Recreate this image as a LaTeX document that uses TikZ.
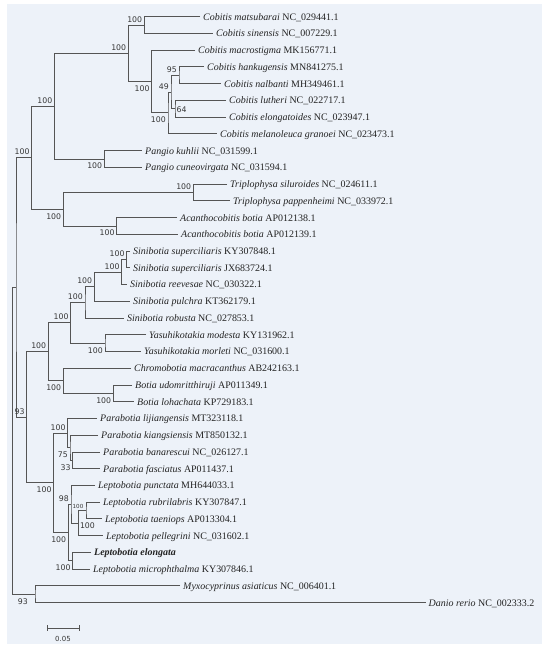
\documentclass[tikz,border=0pt]{standalone}
\usepackage{fontspec}
\setmainfont{Liberation Serif}
\newfontfamily\bsfont{DejaVu Sans}
\definecolor{bgc}{RGB}{237,242,249}
\definecolor{linec}{RGB}{85,85,85}
\definecolor{txtc}{RGB}{35,35,35}
\definecolor{bsc}{RGB}{55,55,55}
\begin{document}
\begin{tikzpicture}[x=1bp,y=-1bp,
 br/.style={draw=linec, line width=0.9bp},
 leaf/.style={anchor=base west, inner sep=0pt, xshift=3bp, yshift=-3.4bp, font=\fontsize{10}{12}\selectfont, text=txtc},
 bs/.style={inner sep=0pt, font=\bsfont\fontsize{7.8}{9}\selectfont, text=bsc},
 ab/.style={bs, anchor=south east, xshift=-2bp, yshift=2.5bp},
 bl/.style={bs, anchor=north east, xshift=-2bp, yshift=-4bp},
]
\useasboundingbox (0,0) rectangle (550,651);
\fill[bgc] (7,4) rectangle (542,644);
% leaves (branch ends)
\coordinate (t1) at (200,16.7);
\coordinate (t2) at (213,33.4);
\coordinate (t3) at (195,50.2);
\coordinate (t4) at (204,66.9);
\coordinate (t5) at (221,83.7);
\coordinate (t6) at (226,100.4);
\coordinate (t7) at (226,117.1);
\coordinate (t8) at (217,133.9);
\coordinate (t9) at (142,150.6);
\coordinate (t10) at (142,167.4);
\coordinate (t11) at (227,184.1);
\coordinate (t12) at (230,200.8);
\coordinate (t13) at (177,217.6);
\coordinate (t14) at (178,234.3);
\coordinate (t15) at (130,251.1);
\coordinate (t16) at (130,267.8);
\coordinate (t17) at (127,284.5);
\coordinate (t18) at (130,301.3);
\coordinate (t19) at (124,318.0);
\coordinate (t20) at (146,334.8);
\coordinate (t21) at (141,351.5);
\coordinate (t22) at (131,368.2);
\coordinate (t23) at (132,385.0);
\coordinate (t24) at (134,401.7);
\coordinate (t25) at (97,418.5);
\coordinate (t26) at (98,435.2);
\coordinate (t27) at (100,452.0);
\coordinate (t28) at (100,468.7);
\coordinate (t29) at (95,485.4);
\coordinate (t30) at (100,502.2);
\coordinate (t31) at (102,518.9);
\coordinate (t32) at (103,535.6);
\coordinate (t33) at (91,552.4);
\coordinate (t34) at (90,569.1);
\coordinate (t35) at (180,585.9);
\coordinate (t36) at (425.5,602.6);
% internal nodes
\coordinate (nA) at (144.3,25.05);
\coordinate (n45) at (179,75.3);
\coordinate (n67) at (175,108.75);
\coordinate (n4567) at (171,92.0);
\coordinate (nC) at (168,112.95);
\coordinate (nB) at (151.7,81.6);
\coordinate (nAB) at (128.3,53.3);
\coordinate (nP) at (104.3,159.0);
\coordinate (nE) at (54.5,106.15);
\coordinate (nT) at (193.3,192.45);
\coordinate (nAc) at (116.7,225.95);
\coordinate (nG) at (63.3,209.2);
\coordinate (nF) at (31.7,157.7);
\coordinate (ns1) at (126.7,259.45);
\coordinate (ns2) at (121.7,272.0);
\coordinate (ns3) at (94.3,286.65);
\coordinate (ns4) at (85,302.3);
\coordinate (nY) at (105,343.15);
\coordinate (nSY) at (70.7,322.7);
\coordinate (nBo) at (113.3,393.35);
\coordinate (nCB) at (63.3,380.8);
\coordinate (nL) at (48.3,351.75);
\coordinate (nPb3) at (72.7,460.35);
\coordinate (nPb2) at (70,447.8);
\coordinate (nPb) at (67.7,433.15);
\coordinate (nl1) at (86,510.55);
\coordinate (nl2) at (78.3,523.1);
\coordinate (nl3) at (71,504.25);
\coordinate (nl4) at (72.7,560.75);
\coordinate (nLp) at (68.3,532.5);
\coordinate (nM) at (53.7,482.8);
\coordinate (nK) at (26.7,417.3);
\coordinate (nH) at (16,287.5);
\coordinate (nO) at (35,594.25);
\coordinate (nR) at (12.7,440.9);
% branches
\draw[br] (t1) -| (nA) |- (t2);
\draw[br] (t4) -| (n45) |- (t5);
\draw[br] (t6) -| (n67) |- (t7);
\draw[br] (n45) -| (n4567) |- (n67);
\draw[br] (n4567) -| (nC) |- (t8);
\draw[br] (t3) -| (nB) |- (nC);
\draw[br] (nA) -| (nAB) |- (nB);
\draw[br] (t9) -| (nP) |- (t10);
\draw[br] (nAB) -| (nE) |- (nP);
\draw[br] (t11) -| (nT) |- (t12);
\draw[br] (t13) -| (nAc) |- (t14);
\draw[br] (nT) -| (nG) |- (nAc);
\draw[br] (nE) -| (nF) |- (nG);
\draw[br] (t15) -| (ns1) |- (t16);
\draw[br] (ns1) -| (ns2) |- (t17);
\draw[br] (ns2) -| (ns3) |- (t18);
\draw[br] (ns3) -| (ns4) |- (t19);
\draw[br] (t20) -| (nY) |- (t21);
\draw[br] (ns4) -| (nSY) |- (nY);
\draw[br] (t23) -| (nBo) |- (t24);
\draw[br] (t22) -| (nCB) |- (nBo);
\draw[br] (nSY) -| (nL) |- (nCB);
\draw[br] (t27) -| (nPb3) |- (t28);
\draw[br] (t26) -| (nPb2) |- (nPb3);
\draw[br] (t25) -| (nPb) |- (nPb2);
\draw[br] (t30) -| (nl1) |- (t31);
\draw[br] (nl1) -| (nl2) |- (t32);
\draw[br] (t29) -| (nl3) |- (nl2);
\draw[br] (t33) -| (nl4) |- (t34);
\draw[br] (nl3) -| (nLp) |- (nl4);
\draw[br] (nPb) -| (nM) |- (nLp);
\draw[br] (nL) -| (nK) |- (nM);
\draw[br] (nF) -| (nH) |- (nK);
\draw[br] (t35) -| (nO) |- (t36);
\draw[br] (nH) -| (nR) |- (nO);
% leaf labels
\node[leaf] (L1) at (t1) {\textit{Cobitis matsubarai} NC\_029441.1};
\node[leaf] (L2) at (t2) {\textit{Cobitis sinensis} NC\_007229.1};
\node[leaf] (L3) at (t3) {\textit{Cobitis macrostigma} MK156771.1};
\node[leaf] (L4) at (t4) {\textit{Cobitis hankugensis} MN841275.1};
\node[leaf] (L5) at (t5) {\textit{Cobitis nalbanti} MH349461.1};
\node[leaf] (L6) at (t6) {\textit{Cobitis lutheri} NC\_022717.1};
\node[leaf] (L7) at (t7) {\textit{Cobitis elongatoides} NC\_023947.1};
\node[leaf] (L8) at (t8) {\textit{Cobitis melanoleuca granoei} NC\_023473.1};
\node[leaf] (L9) at (t9) {\textit{Pangio kuhlii} NC\_031599.1};
\node[leaf] (L10) at (t10) {\textit{Pangio cuneovirgata} NC\_031594.1};
\node[leaf] (L11) at (t11) {\textit{Triplophysa siluroides} NC\_024611.1};
\node[leaf] (L12) at (t12) {\textit{Triplophysa pappenheimi} NC\_033972.1};
\node[leaf] (L13) at (t13) {\textit{Acanthocobitis botia} AP012138.1};
\node[leaf] (L14) at (t14) {\textit{Acanthocobitis botia} AP012139.1};
\node[leaf] (L15) at (t15) {\textit{Sinibotia superciliaris} KY307848.1};
\node[leaf] (L16) at (t16) {\textit{Sinibotia superciliaris} JX683724.1};
\node[leaf] (L17) at (t17) {\textit{Sinibotia reevesae} NC\_030322.1};
\node[leaf] (L18) at (t18) {\textit{Sinibotia pulchra} KT362179.1};
\node[leaf] (L19) at (t19) {\textit{Sinibotia robusta} NC\_027853.1};
\node[leaf] (L20) at (t20) {\textit{Yasuhikotakia modesta} KY131962.1};
\node[leaf] (L21) at (t21) {\textit{Yasuhikotakia morleti} NC\_031600.1};
\node[leaf] (L22) at (t22) {\textit{Chromobotia macracanthus} AB242163.1};
\node[leaf] (L23) at (t23) {\textit{Botia udomritthiruji} AP011349.1};
\node[leaf] (L24) at (t24) {\textit{Botia lohachata} KP729183.1};
\node[leaf] (L25) at (t25) {\textit{Parabotia lijiangensis} MT323118.1};
\node[leaf] (L26) at (t26) {\textit{Parabotia kiangsiensis} MT850132.1};
\node[leaf] (L27) at (t27) {\textit{Parabotia banarescui} NC\_026127.1};
\node[leaf] (L28) at (t28) {\textit{Parabotia fasciatus} AP011437.1};
\node[leaf] (L29) at (t29) {\textit{Leptobotia punctata} MH644033.1};
\node[leaf] (L30) at (t30) {\textit{Leptobotia rubrilabris} KY307847.1};
\node[leaf] (L31) at (t31) {\textit{Leptobotia taeniops} AP013304.1};
\node[leaf] (L32) at (t32) {\textit{Leptobotia pellegrini} NC\_031602.1};
\node[leaf] (L33) at (t33) {\textbf{\textit{Leptobotia elongata}}};
\node[leaf] (L34) at (t34) {\textit{Leptobotia microphthalma} KY307846.1};
\node[leaf] (L35) at (t35) {\textit{Myxocyprinus asiaticus} NC\_006401.1};
\node[leaf] (L36) at (t36) {\textit{Danio rerio} NC\_002333.2};
% bootstrap values
\node[ab] (bA) at (nA) {100};
\node[ab] (bAB) at (nAB) {100};
\node[bl] (bB) at (nB) {100};
\node[ab] (b45) at (n45) {95};
\node[ab] (b4567) at (n4567) {49};
\node[bs, anchor=west, xshift=1.5bp, yshift=-1.3bp] (b67) at (n67) {64};
\node[bl] (bC) at (nC) {100};
\node[ab] (bE) at (nE) {100};
\node[bl] (bP) at (nP) {100};
\node[ab] (bF) at (nF) {100};
\node[bl] (bG) at (nG) {100};
\node[ab] (bT) at (nT) {100};
\node[bl] (bAc) at (nAc) {100};
\node[ab] (bs1) at (ns1) {100};
\node[ab] (bs2) at (ns2) {100};
\node[ab] (bs3) at (ns3) {100};
\node[ab] (bs4) at (ns4) {100};
\node[ab] (bSY) at (nSY) {100};
\node[bl] (bY) at (nY) {100};
\node[ab] (bL) at (nL) {100};
\node[bl] (bCB) at (nCB) {100};
\node[bl] (bBo) at (nBo) {100};
\node[ab] (bK) at (nK) {93};
\node[bl] (bM) at (nM) {100};
\node[ab] (bPb) at (nPb) {100};
\node[bl] (bPb2) at (nPb2) {75};
\node[bl] (bPb3) at (nPb3) {33};
\node[ab] (bl3) at (nl3) {98};
\node[bs, font=\bsfont\fontsize{5.6}{7}\selectfont, anchor=center, xshift=-8bp, yshift=4.5bp] (bl1) at (nl1) {100};
\node[bs, anchor=west, xshift=1.5bp, yshift=-3bp] (bl2) at (nl2) {100};
\node[bl] (bl4) at (nl4) {100};
\node[bl] (bLp) at (nLp) {100};
\node[bl, xshift=-5bp] (bO) at (nO) {93};
% scale bar
\coordinate (sb1) at (47,628);
\coordinate (sb2) at (79,628);
\draw[br] (sb1) -- (sb2);
\draw[br] ([yshift=3bp]sb1) -- ([yshift=-3bp]sb1);
\draw[br] ([yshift=3bp]sb2) -- ([yshift=-3bp]sb2);
\node[bs, font=\bsfont\fontsize{7}{8}\selectfont] (sbl) at (63,639) {0.05};
\end{tikzpicture}
\end{document}
